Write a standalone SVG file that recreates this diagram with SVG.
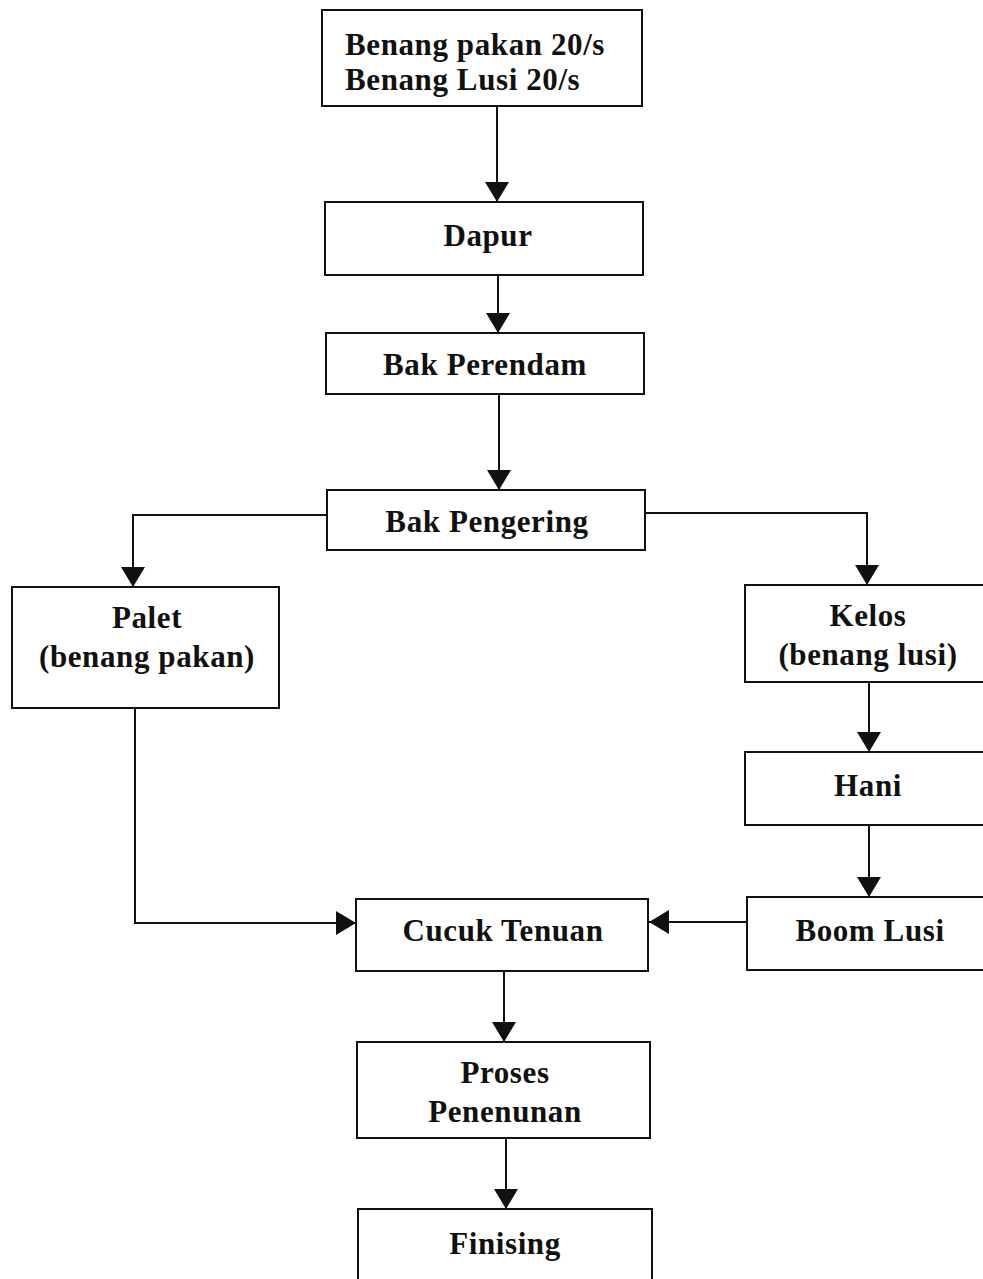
<svg xmlns="http://www.w3.org/2000/svg" width="983" height="1279" viewBox="0 0 983 1279">
<style>
.box{fill:#fff;stroke:#111;stroke-width:2}
.t{font-family:"Liberation Serif","Times New Roman",serif;font-weight:bold;font-size:31px;letter-spacing:0.6px;fill:#111}
.c{text-anchor:middle}
.ln{fill:none;stroke:#111;stroke-width:2;marker-end:url(#ah)}
</style>
<defs>
<marker id="ah" viewBox="0 0 20 24" refX="20" refY="12" markerWidth="20" markerHeight="24" orient="auto" markerUnits="userSpaceOnUse">
<path d="M0,0 L20,12 L0,24 z" fill="#111"/>
</marker>
</defs>
<rect width="983" height="1279" fill="#fff"/>
<g id="connectors">
<path class="ln" d="M497,106 V202"/>
<path class="ln" d="M498,275 V333"/>
<path class="ln" d="M499,394 V490"/>
<path class="ln" d="M327,515 H133 V587"/>
<path class="ln" d="M645,513 H867 V585"/>
<path class="ln" d="M869,682 V752"/>
<path class="ln" d="M869,825 V897"/>
<path class="ln" d="M747,922 H649"/>
<path class="ln" d="M135,708 V923 H356"/>
<path class="ln" d="M504,971 V1042"/>
<path class="ln" d="M506,1138 V1209"/>
</g>
<g id="n-benang">
<rect class="box" x="322" y="10" width="320" height="96"/>
<text class="t" x="345" y="55">Benang pakan 20/s</text>
<text class="t" x="345" y="90">Benang Lusi 20/s</text>
</g>
<g id="n-dapur">
<rect class="box" x="325" y="202" width="318" height="73"/>
<text class="t c" x="488" y="246">Dapur</text>
</g>
<g id="n-perendam">
<rect class="box" x="326" y="333" width="318" height="61"/>
<text class="t c" x="485" y="375">Bak Perendam</text>
</g>
<g id="n-pengering">
<rect class="box" x="327" y="490" width="318" height="60"/>
<text class="t c" x="487" y="532">Bak Pengering</text>
</g>
<g id="n-palet">
<rect class="box" x="12" y="587" width="267" height="121"/>
<text class="t c" x="147" y="628">Palet</text>
<text class="t c" x="147" y="667">(benang pakan)</text>
</g>
<g id="n-kelos">
<rect class="box" x="745" y="585" width="245" height="97"/>
<text class="t c" x="868" y="626">Kelos</text>
<text class="t c" x="868" y="665">(benang lusi)</text>
</g>
<g id="n-hani">
<rect class="box" x="745" y="752" width="245" height="73"/>
<text class="t c" x="868" y="796">Hani</text>
</g>
<g id="n-boom">
<rect class="box" x="747" y="897" width="243" height="73"/>
<text class="t c" x="870" y="941">Boom Lusi</text>
</g>
<g id="n-cucuk">
<rect class="box" x="356" y="899" width="292" height="72"/>
<text class="t c" x="503" y="941">Cucuk Tenuan</text>
</g>
<g id="n-proses">
<rect class="box" x="357" y="1042" width="293" height="96"/>
<text class="t c" x="505" y="1083">Proses</text>
<text class="t c" x="505" y="1122">Penenunan</text>
</g>
<g id="n-finising">
<rect class="box" x="358" y="1209" width="294" height="90"/>
<text class="t c" x="505" y="1254">Finising</text>
</g>
</svg>
